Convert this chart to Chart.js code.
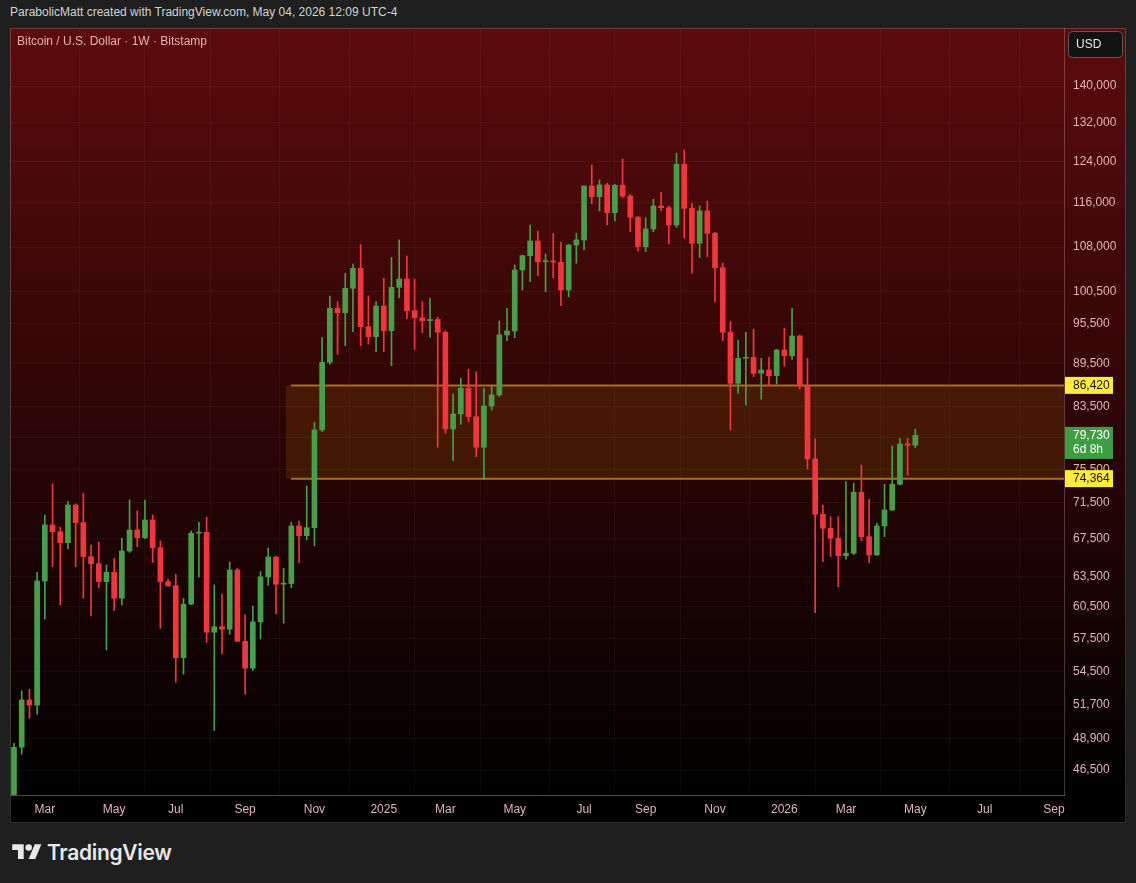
<!DOCTYPE html>
<html>
<head>
<meta charset="utf-8">
<script src="https://cdn.jsdelivr.net/npm/chart.js@4.4.1/dist/chart.umd.min.js"></script>
<style>
  html, body { margin: 0; padding: 0; background: #1f1f1f; width: 1136px; height: 883px; overflow: hidden; }
  #header { position: absolute; left: 10px; top: 5px; font: 12px "Liberation Sans", Arial, sans-serif; color: #d3d3d3; white-space: nowrap; }
  #wrap { position: absolute; left: 10px; top: 28px; width: 1116px; height: 795px; }
  #logo { position: absolute; left: 12px; top: 840px; display: flex; align-items: center; gap: 5px; color: #e8e8e8; font: 600 21px Inter, sans-serif; letter-spacing: -0.3px; }
</style>
</head>
<body>
<div id="header">ParabolicMatt created with TradingView.com, May 04, 2026 12:09 UTC-4</div>
<div id="wrap"><canvas id="chart"></canvas></div>
<div id="logo">
  <svg width="30" height="23" viewBox="0 0 36 28"><path fill="#e8e8e8" d="M14 22H7V11H0V4h14v18z"/><circle fill="#e8e8e8" cx="20" cy="8" r="4"/><path fill="#e8e8e8" d="M28 22h-8l7.5-18h8L28 22z"/></svg>
  <span>TradingView</span>
</div>
<script>
// weekly candles, first one is the week of Feb 5 2024
const startWeek = Date.UTC(2024, 1, 5);
const WEEK = 7 * 24 * 3600 * 1000;

const opens = [42600, 48240, 52060, 51620, 63060, 69010, 68270, 67070, 71270, 69270,
  65580, 64840, 62990, 63950, 61330, 66180, 68460, 67620, 69570, 66530,
  62990, 62580, 55730, 60740, 68100, 68200, 58060, 58580, 58340, 64190,
  57220, 54790, 59030, 63470, 65540, 62730, 62800, 68900, 67830, 68710,
  80430, 89700, 97850, 97160, 101060, 104370, 94990, 93480, 98220, 94380,
  101220, 102580, 97480, 96380, 95920, 96100, 94140, 80560, 82530, 86020,
  82170, 78220, 83600, 85100, 93730, 94340, 104080, 106510, 109060, 105480,
  105600, 105400, 100780, 108360, 109240, 119170, 117130, 119360, 114150, 119300,
  117260, 113300, 108060, 111190, 115390, 115070, 111910, 123410, 114960, 108660,
  114460, 110420, 104470, 94140, 86720, 90280, 90400, 88120, 88590, 87780,
  91490, 90660, 93580, 86380, 76760, 70210, 68650, 67550, 65680, 65940,
  72750, 67720, 65760, 68900, 70700, 73690, 78640, 78480];
const highs = [48550, 52820, 52960, 63950, 70130, 73730, 68760, 71650, 71400, 72630,
  66830, 67120, 64710, 65410, 67550, 71850, 70590, 71850, 70130, 67260,
  63260, 63740, 61330, 68350, 69320, 69880, 62660, 61750, 64990, 64360,
  59700, 60570, 64010, 66500, 65600, 64360, 69320, 69460, 73490, 81430,
  93380, 99810, 98900, 103530, 105090, 108360, 99810, 98900, 102700, 106230,
  109240, 106460, 102580, 98900, 99440, 96440, 94380, 85230, 87420, 88690,
  88350, 86020, 86380, 95870, 97850, 104920, 106630, 111910, 110830, 106800,
  110420, 108830, 108480, 110420, 119220, 123270, 120330, 119690, 119500, 124460,
  117580, 113500, 113230, 116640, 117960, 115390, 125610, 126280, 115890, 115390,
  116320, 110600, 105260, 95760, 92980, 94140, 94600, 90280, 90420, 91600,
  94750, 97850, 93700, 90280, 79270, 71270, 69940, 69940, 74000, 73810,
  76020, 71930, 69200, 73690, 78380, 79360, 79360, 80520];
const lows = [42300, 47700, 50540, 50870, 59290, 64530, 60670, 66400, 64530, 61330,
  59630, 62380, 56420, 60110, 60670, 66040, 66640, 67500, 64950, 58430,
  62500, 53560, 54260, 60700, 63440, 57130, 49550, 56060, 57870, 57200,
  52540, 54570, 57430, 62620, 59820, 58910, 62380, 64950, 67370, 66720,
  80200, 89410, 90860, 92130, 94230, 92130, 92380, 91240, 91240, 89210,
  99540, 96180, 91600, 94080, 93380, 78220, 80000, 76550, 81170, 81510,
  77040, 74290, 83060, 84900, 92870, 93330, 100780, 102140, 103130, 100510,
  102800, 98260, 99700, 105210, 107490, 115760, 114460, 111910, 112630, 116940,
  110710, 107320, 107200, 110710, 114520, 108540, 111490, 109640, 103530, 106170,
  106340, 98900, 92870, 80430, 85330, 83730, 87640, 84510, 86380, 86620,
  89170, 90130, 85920, 75530, 59920, 65050, 65580, 62480, 65300, 65800,
  67290, 64950, 65700, 67720, 70600, 73600, 74800, 78170];
const closes = [48240, 52060, 51620, 63060, 69010, 68270, 67070, 71270, 69270, 65580,
  64840, 62990, 63950, 61330, 66180, 68460, 67620, 69570, 66530, 62990,
  62580, 55730, 60740, 68100, 68200, 58060, 58580, 58340, 64190, 57220,
  54790, 59030, 63470, 65540, 62730, 62800, 68900, 67830, 68710, 80430,
  89700, 97850, 97160, 101060, 104370, 94990, 93480, 98220, 94380, 101220,
  102580, 97480, 96380, 95920, 96100, 94140, 80560, 82530, 86020, 82170,
  78220, 83600, 85100, 93730, 94340, 104080, 106510, 109060, 105480, 105600,
  105400, 100780, 108360, 109240, 119170, 117130, 119360, 114150, 119300, 117260,
  113300, 108060, 111190, 115390, 115070, 111910, 123410, 114960, 108660, 114460,
  110420, 104470, 94140, 86720, 90280, 90400, 88120, 88590, 87780, 91490,
  90660, 93580, 86380, 76760, 70210, 68650, 67550, 65680, 65940, 72750,
  67720, 65760, 68900, 70700, 73690, 78640, 78480, 79730];

const yTicks = [46500, 48900, 51700, 54500, 57500, 60500, 63500, 67500, 71500, 75500,
  79500, 83500, 89500, 95500, 100500, 108000, 116000, 124000, 132000, 140000];
const xTickMonths = [[2024, 3], [2024, 5], [2024, 7], [2024, 9], [2024, 11], [2025, 1],
  [2025, 3], [2025, 5], [2025, 7], [2025, 9], [2025, 11], [2026, 1],
  [2026, 3], [2026, 5], [2026, 7], [2026, 9]];
const xTickLabels = ['Mar', 'May', 'Jul', 'Sep', 'Nov', '2025', 'Mar', 'May', 'Jul', 'Sep',
  'Nov', '2026', 'Mar', 'May', 'Jul', 'Sep'];

const zoneTop = 86420;
const zoneBottom = 74364;
const zoneStartWeek = 35.3;
const lastPrice = 79730;
const countdown = '6d 8h';

const GREEN = '#46a04a';
const RED = '#f2363d';
const LABEL = '#e2b3bb';
const GRID = 'rgba(255,255,255,0.04)';
const FONT = '"Liberation Sans", Arial, sans-serif';

// first weekly bar of every labelled month
const xTickIndex = xTickMonths.map(([y, m]) => Math.ceil((Date.UTC(y, m - 1, 1) - startWeek) / WEEK));

const bodies = opens.map((o, i) => ({ x: i, y: [o, closes[i]] }));
const wicks = lows.map((l, i) => ({ x: i, y: [l, highs[i]] }));
const colorOf = ctx => closes[ctx.dataIndex] >= opens[ctx.dataIndex] ? GREEN : RED;

function badge(ctx, scale, value, bg, fg, lines) {
  const y = scale.getPixelForValue(value);
  const h = lines.length === 1 ? 17 : 32;
  ctx.fillStyle = bg;
  ctx.fillRect(scale.left + 1, y - 8.5, 48, h);
  ctx.fillStyle = fg;
  ctx.font = '12px ' + FONT;
  ctx.textAlign = 'left';
  ctx.textBaseline = 'middle';
  lines.forEach((t, k) => ctx.fillText(t, scale.left + 9, y + k * 14));
}

const panel = {
  id: 'panel',
  beforeDraw(chart) {
    const { ctx, chartArea: a, width, height } = chart;
    ctx.save();
    ctx.fillStyle = '#000';
    ctx.fillRect(0, 0, width, height);
    const g = ctx.createLinearGradient(0, a.top, 0, a.bottom);
    g.addColorStop(0, '#5c0b0c');
    g.addColorStop(1, '#000');
    ctx.fillStyle = g;
    ctx.fillRect(0, a.top, width, a.bottom - a.top);
    ctx.restore();
  },
  beforeDatasetsDraw(chart) {
    const { ctx, chartArea: a, scales: { x, y } } = chart;
    const x0 = x.getPixelForValue(zoneStartWeek);
    const yT = y.getPixelForValue(zoneTop);
    const yB = y.getPixelForValue(zoneBottom);
    ctx.save();
    ctx.fillStyle = 'rgba(160,95,0,0.22)';
    ctx.fillRect(x0, yT, a.right - x0, yB - yT);
    ctx.strokeStyle = '#a66e2a';
    ctx.lineWidth = 2;
    ctx.beginPath();
    ctx.moveTo(x0 + 5, yT); ctx.lineTo(a.right, yT);
    ctx.moveTo(x0 + 5, yB); ctx.lineTo(a.right, yB);
    ctx.stroke();
    ctx.restore();
  },
  afterDraw(chart) {
    const { ctx, scales: { y }, width, height } = chart;
    ctx.save();
    ctx.fillStyle = '#e6b0b8';
    ctx.font = '12px ' + FONT;
    ctx.textBaseline = 'middle';
    ctx.fillText('Bitcoin / U.S. Dollar · 1W · Bitstamp', 7, 14);

    badge(ctx, y, zoneTop, '#ffeb3b', '#131313', [zoneTop.toLocaleString('en-US')]);
    badge(ctx, y, lastPrice, '#3f9c43', '#ffffff', [lastPrice.toLocaleString('en-US'), countdown]);
    badge(ctx, y, zoneBottom, '#ffeb3b', '#131313', [zoneBottom.toLocaleString('en-US')]);

    // currency box
    ctx.fillStyle = '#131313';
    ctx.strokeStyle = '#5a5a5a';
    ctx.lineWidth = 1;
    ctx.beginPath();
    ctx.roundRect(y.left + 4.5, 3.5, 54, 26, 4);
    ctx.fill(); ctx.stroke();
    ctx.fillStyle = '#e8e8e8';
    ctx.font = '12px ' + FONT;
    ctx.fillText('USD', y.left + 12, 17);

    ctx.strokeStyle = 'rgba(255,255,255,0.18)';
    ctx.strokeRect(0.5, 0.5, width - 1, height - 1);
    ctx.restore();
  }
};

new Chart(document.getElementById('chart'), {
  type: 'bar',
  data: {
    datasets: [
      { data: wicks, backgroundColor: colorOf, barThickness: 1, minBarLength: 1, grouped: false },
      { data: bodies, backgroundColor: colorOf, barThickness: 5, minBarLength: 1, grouped: false }
    ]
  },
  options: {
    responsive: true,
    maintainAspectRatio: false,
    animation: false,
    events: [],
    layout: { padding: 0 },
    plugins: { legend: { display: false }, tooltip: { enabled: false } },
    scales: {
      x: {
        type: 'linear',
        min: -0.52,
        max: 136.3,
        bounds: 'data',
        offset: false,
        afterBuildTicks: s => { s.ticks = xTickIndex.map(v => ({ value: v })); },
        afterFit: s => { s.height = 28; s.paddingLeft = 0; s.paddingRight = 0; },
        ticks: {
          autoSkip: false,
          maxRotation: 0,
          padding: 7,
          color: LABEL,
          font: { family: FONT, size: 12 },
          callback: (v, i) => xTickLabels[i]
        },
        grid: { color: GRID, drawTicks: false },
        border: { color: '#4a4a4a' }
      },
      y: {
        type: 'logarithmic',
        position: 'right',
        min: 44664,
        max: 153716,
        bounds: 'data',
        afterBuildTicks: s => { s.ticks = yTicks.map(v => ({ value: v })); },
        afterFit: s => { s.width = 62; s.paddingTop = 0; s.paddingBottom = 0; },
        ticks: {
          padding: 9,
          color: LABEL,
          font: { family: FONT, size: 12 },
          callback: v => v.toLocaleString('en-US')
        },
        grid: { color: GRID, drawTicks: false },
        border: { color: 'rgba(255,255,255,0.22)' }
      }
    }
  },
  plugins: [panel]
});
</script>
</body>
</html>
